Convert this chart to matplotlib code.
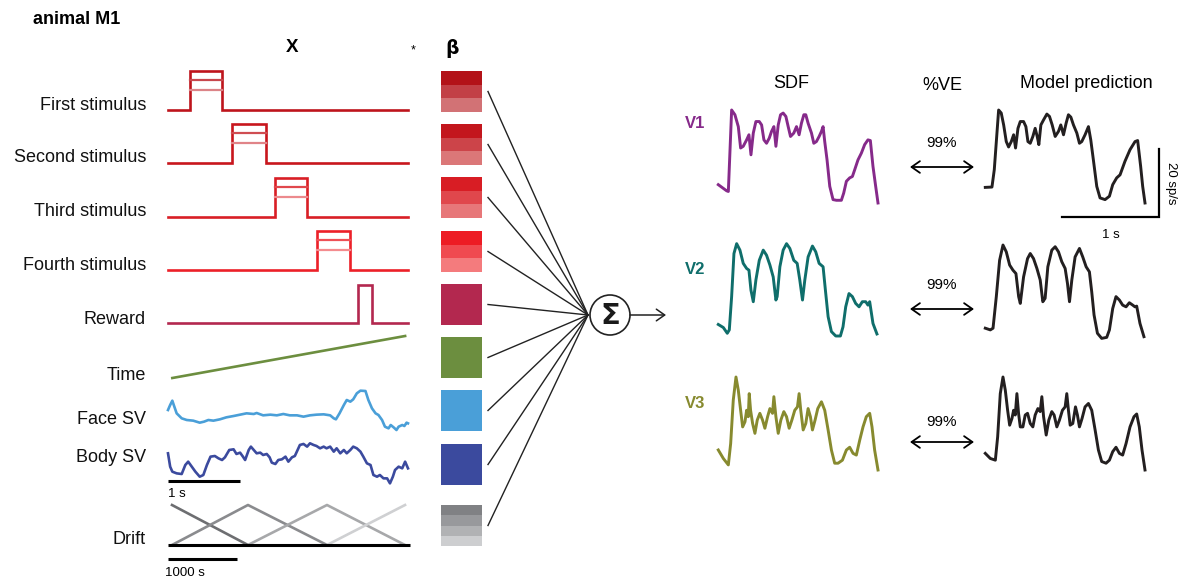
import numpy as np
import matplotlib
matplotlib.use('Agg')
import matplotlib.pyplot as plt
from matplotlib.patches import Rectangle, Circle

plt.rcParams['font.family'] = ['Liberation Sans', 'DejaVu Sans']

W, H = 1183, 581

# ---------------- data ----------------
row_labels = ['First stimulus', 'Second stimulus', 'Third stimulus', 'Fourth stimulus',
              'Reward', 'Time', 'Face SV', 'Body SV', 'Drift']
trial_len_s = 3.33
stim_on_s = [0.31, 0.89, 1.49, 2.07]
stim_off_s = [0.75, 1.36, 1.93, 2.53]
stim_levels = [1.0, 0.76, 0.52]
reward_on_s, reward_off_s = 2.63, 2.83
time_t = [0.06, 3.29]
time_v = [0.0, 1.0]

face_t = [0.00, 0.03, 0.06, 0.08, 0.12, 0.19, 0.26, 0.35, 0.44, 0.50, 0.56, 0.63, 0.72, 0.81,
          0.91, 1.00, 1.09, 1.19, 1.23, 1.32, 1.42, 1.51, 1.60, 1.69, 1.79, 1.88, 1.97, 2.06,
          2.16, 2.25, 2.30, 2.33, 2.38, 2.44, 2.48, 2.53, 2.57, 2.62, 2.67, 2.74, 2.78, 2.83,
          2.88, 2.92, 2.97, 3.01, 3.06, 3.09, 3.13, 3.17, 3.20, 3.25, 3.28, 3.31, 3.33]
face_v = [6.0, 7.5, 8.8, 7.5, 5.0, 3.5, 3.0, 2.8, 2.2, 2.5, 3.0, 2.8, 3.2, 3.8,
          4.2, 4.6, 5.0, 4.8, 5.1, 4.4, 4.6, 4.4, 4.8, 4.4, 4.4, 4.0, 4.4, 4.6,
          4.7, 4.4, 3.5, 3.2, 5.0, 7.5, 9.0, 8.5, 9.2, 11.0, 11.8, 11.7, 9.0, 6.5,
          5.0, 4.5, 3.0, 1.0, 0.5, 1.5, 0.8, 0.0, 1.0, 1.5, 1.2, 2.2, 2.0]

body_t = [0.00, 0.03, 0.06, 0.12, 0.19, 0.24, 0.28, 0.33, 0.38, 0.44, 0.49, 0.54, 0.59, 0.65,
          0.70, 0.75, 0.79, 0.85, 0.91, 0.95, 1.00, 1.04, 1.07, 1.12, 1.15, 1.19, 1.23, 1.28,
          1.32, 1.37, 1.41, 1.44, 1.49, 1.53, 1.58, 1.63, 1.67, 1.72, 1.76, 1.83, 1.88, 1.93,
          1.97, 2.02, 2.06, 2.11, 2.16, 2.20, 2.25, 2.30, 2.34, 2.39, 2.44, 2.48, 2.53, 2.57,
          2.62, 2.67, 2.71, 2.76, 2.81, 2.85, 2.90, 2.94, 2.99, 3.04, 3.08, 3.12, 3.15, 3.20,
          3.25, 3.29, 3.33]
body_v = [10.0, 6.0, 4.5, 4.0, 3.8, 6.5, 7.5, 6.0, 4.5, 3.0, 3.5, 6.5, 9.0, 9.2,
          8.5, 8.0, 8.8, 11.0, 11.2, 9.8, 10.2, 9.0, 8.0, 11.0, 12.0, 11.0, 10.0, 10.2,
          9.5, 9.8, 8.8, 7.2, 6.8, 8.0, 8.2, 9.0, 7.5, 8.8, 9.2, 12.5, 12.8, 12.0,
          13.0, 12.5, 12.2, 11.5, 12.0, 11.5, 12.0, 10.5, 11.5, 10.0, 11.0, 10.0, 11.0, 12.0,
          11.5, 10.5, 9.0, 7.0, 6.5, 3.5, 3.0, 3.5, 2.5, 2.5, 1.0, 3.0, 5.0, 6.0,
          5.5, 7.5, 5.5]

drift_knots_s = [58, 1159, 2304, 3435]
drift_span_s = 3507

# Spike density functions (ms, sp/s) and model predictions
v1_sdf_t = [3, 89, 107, 141, 175, 210, 234, 261, 296, 320, 341, 365, 392, 427, 451, 475, 502, 530,
            554, 578, 599, 623, 647, 674, 702, 726, 750, 784, 812, 839, 863, 888, 908, 932, 967,
            991, 1018, 1046, 1070, 1087, 1104, 1128, 1156, 1190, 1225, 1276, 1300, 1328, 1362,
            1390, 1414, 1448, 1483, 1517, 1551, 1576, 1603, 1631, 1655]
v1_sdf_r = [5.4, 3.6, 3.4, 27.4, 26.0, 22.5, 16.2, 16.7, 18.6, 20.1, 14.2, 20.6, 24.0, 24.0, 23.0,
            18.6, 17.6, 19.1, 21.1, 22.5, 16.7, 23.0, 26.0, 26.5, 25.5, 22.5, 19.6, 20.6, 22.5,
            20.1, 23.5, 26.0, 26.0, 23.5, 20.6, 17.6, 18.1, 19.6, 21.1, 22.5, 18.1, 12.7, 4.9,
            1.0, 0.8, 0.8, 2.9, 6.4, 7.4, 7.8, 9.8, 12.7, 14.7, 17.2, 18.6, 18.4, 10.8, 4.9, 0.0]
v1_mod_t = [3, 72, 96, 141, 168, 193, 220, 244, 272, 296, 316, 341, 365, 399, 423, 444, 468, 495,
            519, 540, 557, 578, 606, 640, 667, 695, 726, 760, 784, 812, 839, 863, 888, 915, 950,
            977, 1001, 1035, 1070, 1094, 1121, 1156, 1190, 1242, 1287, 1321, 1362, 1397, 1448,
            1500, 1552, 1579, 1610, 1631, 1655]
v1_mod_r = [4.6, 4.7, 9.8, 27.4, 26.5, 23.0, 18.1, 16.5, 18.1, 20.1, 16.2, 22.0, 24.0, 24.0, 22.5,
            18.1, 17.6, 19.6, 22.0, 19.6, 17.2, 23.0, 24.5, 26.2, 25.5, 23.0, 19.6, 21.1, 23.0,
            20.1, 23.5, 26.0, 25.3, 23.0, 20.6, 17.6, 18.1, 20.1, 22.5, 18.6, 12.7, 4.9, 1.5, 1.0,
            2.0, 5.4, 7.4, 8.3, 12.3, 15.7, 18.1, 18.4, 10.8, 4.9, 0.0]

v2_sdf_t = [3, 55, 96, 117, 141, 165, 193, 227, 261, 296, 320, 341, 365, 392, 427, 468, 502, 537,
            571, 599, 612, 640, 674, 709, 743, 784, 819, 846, 874, 898, 932, 977, 1011, 1046, 1087,
            1111, 1139, 1173, 1218, 1266, 1293, 1321, 1355, 1390, 1424, 1459, 1493, 1528, 1551,
            1569, 1603, 1644]
v2_sdf_r = [3.4, 2.5, 0.8, 1.8, 11.6, 24.3, 27.2, 25.3, 21.4, 19.9, 19.4, 13.5, 10.1, 16.5, 22.3,
            25.3, 23.8, 20.9, 17.4, 10.6, 11.6, 20.4, 25.3, 27.2, 25.8, 22.3, 21.4, 16.5, 10.6,
            16.5, 23.3, 26.5, 24.8, 21.4, 20.4, 13.5, 5.7, 1.3, 0.0, 0.0, 2.7, 8.6, 12.5, 11.6,
            9.6, 8.6, 10.1, 10.1, 9.1, 10.1, 3.7, 0.6]
v2_mod_t = [3, 55, 83, 117, 151, 186, 220, 255, 289, 320, 348, 365, 399, 440, 468, 502, 537, 571,
            598, 622, 650, 691, 726, 760, 794, 829, 853, 874, 898, 932, 977, 1011, 1046, 1080,
            1104, 1128, 1163, 1207, 1259, 1287, 1321, 1355, 1390, 1424, 1459, 1493, 1528, 1551,
            1569, 1603, 1644]
v2_mod_r = [2.3, 1.8, 2.3, 11.6, 22.3, 26.8, 24.8, 20.9, 19.4, 18.4, 11.6, 9.6, 17.4, 22.8, 24.3,
            22.8, 19.9, 16.5, 10.1, 11.1, 20.4, 25.3, 26.3, 24.8, 21.9, 19.9, 15.5, 10.1, 16.5,
            23.3, 25.8, 23.3, 20.4, 18.9, 13.0, 6.2, 0.8, -0.7, -0.4, 1.8, 8.1, 11.6, 10.6, 9.1,
            8.6, 9.8, 9.1, 8.6, 8.8, 3.7, -0.2]

v3_sdf_t = [3, 55, 107, 131, 158, 186, 210, 234, 255, 279, 296, 313, 323, 337, 358, 382, 406, 433,
            461, 485, 513, 537, 564, 578, 599, 623, 650, 681, 709, 736, 764, 794, 822, 839, 856,
            881, 908, 932, 956, 977, 1004, 1032, 1070, 1104, 1139, 1173, 1207, 1242, 1287, 1328,
            1362, 1397, 1431, 1466, 1500, 1534, 1569, 1593, 1620, 1655]
v3_sdf_r = [5.9, 3.4, 1.5, 7.8, 20.6, 27.4, 23.5, 17.6, 12.7, 14.2, 17.6, 15.7, 22.5, 17.6, 13.7,
            10.8, 14.7, 16.7, 14.7, 12.3, 15.7, 18.1, 16.7, 21.6, 15.7, 10.8, 14.7, 17.2, 15.7,
            12.3, 14.7, 17.6, 18.6, 22.5, 17.6, 11.8, 13.7, 18.1, 15.7, 11.8, 14.7, 18.1, 20.1,
            17.6, 11.8, 5.9, 2.0, 2.0, 2.9, 5.9, 6.7, 4.9, 4.4, 8.8, 12.7, 15.7, 16.7, 12.7, 5.9,
            0.0]
v3_mod_t = [3, 55, 107, 131, 158, 186, 210, 234, 255, 279, 296, 313, 330, 347, 365, 392, 416, 440,
            468, 495, 519, 547, 571, 588, 606, 633, 660, 691, 715, 743, 770, 801, 829, 846, 863,
            881, 908, 936, 956, 977, 1004, 1035, 1070, 1104, 1139, 1173, 1207, 1252, 1287, 1321,
            1355, 1390, 1424, 1459, 1500, 1541, 1569, 1596, 1624, 1655]
v3_mod_r = [4.9, 3.4, 2.9, 9.8, 22.5, 27.4, 23.5, 17.6, 13.2, 15.2, 17.6, 16.2, 22.5, 16.7, 12.7,
            12.7, 16.2, 16.7, 13.7, 12.7, 16.2, 18.1, 17.2, 21.6, 15.7, 10.3, 14.7, 17.2, 16.2,
            12.7, 14.7, 17.6, 18.6, 22.5, 17.6, 13.2, 13.7, 18.6, 16.2, 12.7, 15.2, 18.6, 19.6,
            17.6, 11.8, 5.9, 2.5, 2.0, 2.9, 5.4, 6.7, 4.9, 4.4, 7.8, 12.7, 15.7, 16.5, 12.7, 5.9,
            0.0]

neuron_labels = ['V1', 'V2', 'V3']
ve_labels = ['99%', '99%', '99%']

# ---------------- styles ----------------
stim_colors = ['#BE141C', '#C8161D', '#D91E25', '#EC2028']
stim_mid = ['#C8474D', '#CF4D52', '#E0474C', '#EE5056']
stim_low = ['#DC8488', '#E08488', '#EC8A8D', '#F48C8F']
reward_color = '#B3284F'
time_color = '#6C8E3F'
face_color = '#4A9FD8'
body_color = '#3B4A9E'
drift_colors = ['#6D6E71', '#8A8B8E', '#A7A8AA', '#CFD0D2']
box_colors = [['#B31218', '#C24046', '#D27275'],
              ['#C3161D', '#CC4449', '#DB7778'],
              ['#D81D24', '#E0474C', '#E77779'],
              ['#ED1C24', '#F04A50', '#F47B7D'],
              [reward_color], [time_color], [face_color], [body_color],
              ['#808184', '#98999C', '#B1B2B4', '#CDCED0']]
neuron_colors = ['#862A8A', '#0F6E6B', '#878A2F']
model_color = '#231F20'

fig = plt.figure(figsize=(W / 100, H / 100), dpi=100)
ax = fig.add_axes([0, 0, 1, 1])
ax.set_xlim(0, W)
ax.set_ylim(H, 0)
ax.axis('off')


def sub_ax(x0, y0, x1, y1):
    a = fig.add_axes([x0 / W, 1 - y1 / H, (x1 - x0) / W, (y1 - y0) / H])
    a.axis('off')
    return a


# ---------------- titles ----------------
ax.text(33, 20, 'animal M1', fontsize=13, fontweight='bold', ha='left', va='center')
ax.text(292, 48, 'X', fontsize=13.5, fontweight='bold', ha='center', va='center')
ax.text(413, 50, '*', fontsize=9, ha='center', va='center')
ax.text(452, 49, 'β', fontsize=13.5, fontweight='bold', ha='center', va='center',
        family=['DejaVu Sans'])

label_y = [105, 158, 212, 265, 320, 375, 419, 458, 539]
for lab, y in zip(row_labels, label_y):
    ax.text(146, y, lab, fontsize=13, ha='right', va='center', color='#111111')

# ---------------- stimulus rows ----------------
stim_base = [110, 163, 217, 270]
for i in range(4):
    a = sub_ax(168, stim_base[i] - 39, 408, stim_base[i])
    a.set_xlim(0, trial_len_s)
    a.set_ylim(0, 1)
    on, off = stim_on_s[i], stim_off_s[i]
    a.plot([0, on, on, off, off, trial_len_s], [0, 0, 1, 1, 0, 0], color=stim_colors[i],
           lw=1.9, clip_on=False, solid_joinstyle='miter')
    a.plot([on, off], [stim_levels[1]] * 2, color=stim_mid[i], lw=1.6, clip_on=False)
    a.plot([on, off], [stim_levels[2]] * 2, color=stim_low[i], lw=1.6, clip_on=False)

a = sub_ax(168, 285, 408, 323)
a.set_xlim(0, trial_len_s)
a.set_ylim(0, 1)
a.plot([0, reward_on_s, reward_on_s, reward_off_s, reward_off_s, trial_len_s], [0, 0, 1, 1, 0, 0],
       color=reward_color, lw=1.9, clip_on=False, solid_joinstyle='miter')

a = sub_ax(168, 336, 408, 378)
a.set_xlim(0, trial_len_s)
a.set_ylim(0, 1)
a.plot(time_t, time_v, color=time_color, lw=1.9, clip_on=False)

a = sub_ax(168, 390, 408, 430)
a.set_xlim(0, trial_len_s)
a.set_ylim(0, 12)
a.plot(face_t, face_v, color=face_color, lw=1.9, clip_on=False, solid_joinstyle='round')

a = sub_ax(168, 443.3, 408, 486.7)
a.set_xlim(0, trial_len_s)
a.set_ylim(0, 13)
a.plot(body_t, body_v, color=body_color, lw=1.9, clip_on=False, solid_joinstyle='round')
a.plot([0, 1], [1.7, 1.7], color='black', lw=2.2, clip_on=False, solid_capstyle='butt')
ax.text(168, 494, '1 s', fontsize=9.5, ha='left', va='center')

a = sub_ax(168, 505, 410, 545)
a.set_xlim(0, drift_span_s)
a.set_ylim(0, 1)
k = drift_knots_s
a.plot([k[0], k[1]], [1, 0], color=drift_colors[0], lw=1.9, clip_on=False)
a.plot([k[0], k[1], k[2]], [0, 1, 0], color=drift_colors[1], lw=1.9, clip_on=False)
a.plot([k[1], k[2], k[3]], [0, 1, 0], color=drift_colors[2], lw=1.9, clip_on=False)
a.plot([k[2], k[3]], [0, 1], color=drift_colors[3], lw=1.9, clip_on=False)
a.plot([0, drift_span_s], [0, 0], color='black', lw=2.2, clip_on=False, solid_capstyle='butt')
a.plot([0, 1000], [-0.35, -0.35], color='black', lw=2.2, clip_on=False, solid_capstyle='butt')
ax.text(165, 573, '1000 s', fontsize=9.5, ha='left', va='center')

# ---------------- beta boxes and connections ----------------
box_top = [71, 124, 177, 231, 284, 337, 390, 444, 505]
box_h = 41
box_x0, box_w = 441, 41
sum_c = (610, 315)
sum_r = 20
for top, cols in zip(box_top, box_colors):
    n = len(cols)
    for j, c in enumerate(cols):
        ax.add_patch(Rectangle((box_x0, top + j * box_h / n), box_w, box_h / n,
                               facecolor=c, edgecolor='none'))
    ax.plot([488, sum_c[0] - sum_r - 2], [top + box_h / 2, sum_c[1]], color='#222222', lw=1.0)

ax.add_patch(Circle(sum_c, sum_r, facecolor='white', edgecolor='#222222', lw=1.2, zorder=3))
ax.text(sum_c[0], sum_c[1] + 1, 'Σ', fontsize=21, fontweight='bold', ha='center', va='center',
        zorder=4, color='#1a1a1a', family=['DejaVu Sans'])
ax.annotate('', xy=(666, sum_c[1]), xytext=(sum_c[0] + sum_r, sum_c[1]),
            arrowprops=dict(arrowstyle='->,head_length=0.5,head_width=0.35', mutation_scale=12,
                            lw=1.1, color='#222222', shrinkA=0, shrinkB=0))

# ---------------- right side ----------------
ax.text(791, 84, 'SDF', fontsize=13, ha='center', va='center')
ax.text(942, 86, '%VE', fontsize=13, ha='center', va='center')
ax.text(1086, 84, 'Model prediction', fontsize=13, ha='center', va='center')

sdf_ts = [v1_sdf_t, v2_sdf_t, v3_sdf_t]
sdf_rs = [v1_sdf_r, v2_sdf_r, v3_sdf_r]
mod_ts = [v1_mod_t, v2_mod_t, v3_mod_t]
mod_rs = [v1_mod_r, v2_mod_r, v3_mod_r]
panel_top = [110, 243, 377]
panel_h = 93
label_cy = [124, 269, 404]
arrow_y = [167, 309, 442]
ve_y = [143, 285, 422]
rmax = 27.4
tmax = 1655
for i in range(3):
    t0 = panel_top[i]
    a1 = sub_ax(718, t0, 878, t0 + panel_h)
    a1.set_xlim(0, tmax)
    a1.set_ylim(0, rmax)
    a1.plot(sdf_ts[i], sdf_rs[i], color=neuron_colors[i], lw=2.1, clip_on=False,
            solid_joinstyle='round')
    a2 = sub_ax(985, t0, 1145, t0 + panel_h)
    a2.set_xlim(0, tmax)
    a2.set_ylim(0, rmax)
    a2.plot(mod_ts[i], mod_rs[i], color=model_color, lw=2.1, clip_on=False,
            solid_joinstyle='round')
    if i == 0:
        a2.plot([800, 1800, 1800], [-4.1, -4.1, 15.9], color='black', lw=1.6, clip_on=False,
                solid_joinstyle='miter')
        a2.text(1300, -9.3, '1 s', fontsize=9.5, ha='center', va='center')
        a2.text(1925, 5.9, '20 sp/s', fontsize=9.5, ha='center', va='center', rotation=270)
    ax.text(685, label_cy[i], neuron_labels[i], fontsize=12, fontweight='bold',
            color=neuron_colors[i], ha='left', va='center')
    ax.text(942, ve_y[i], ve_labels[i], fontsize=11, ha='center', va='center')
    ax.annotate('', xy=(974, arrow_y[i]), xytext=(910, arrow_y[i]),
                arrowprops=dict(arrowstyle='<->,head_length=0.5,head_width=0.35',
                                mutation_scale=12, lw=1.3, color='black', shrinkA=0, shrinkB=0))

fig.savefig('out.png', dpi=100)
